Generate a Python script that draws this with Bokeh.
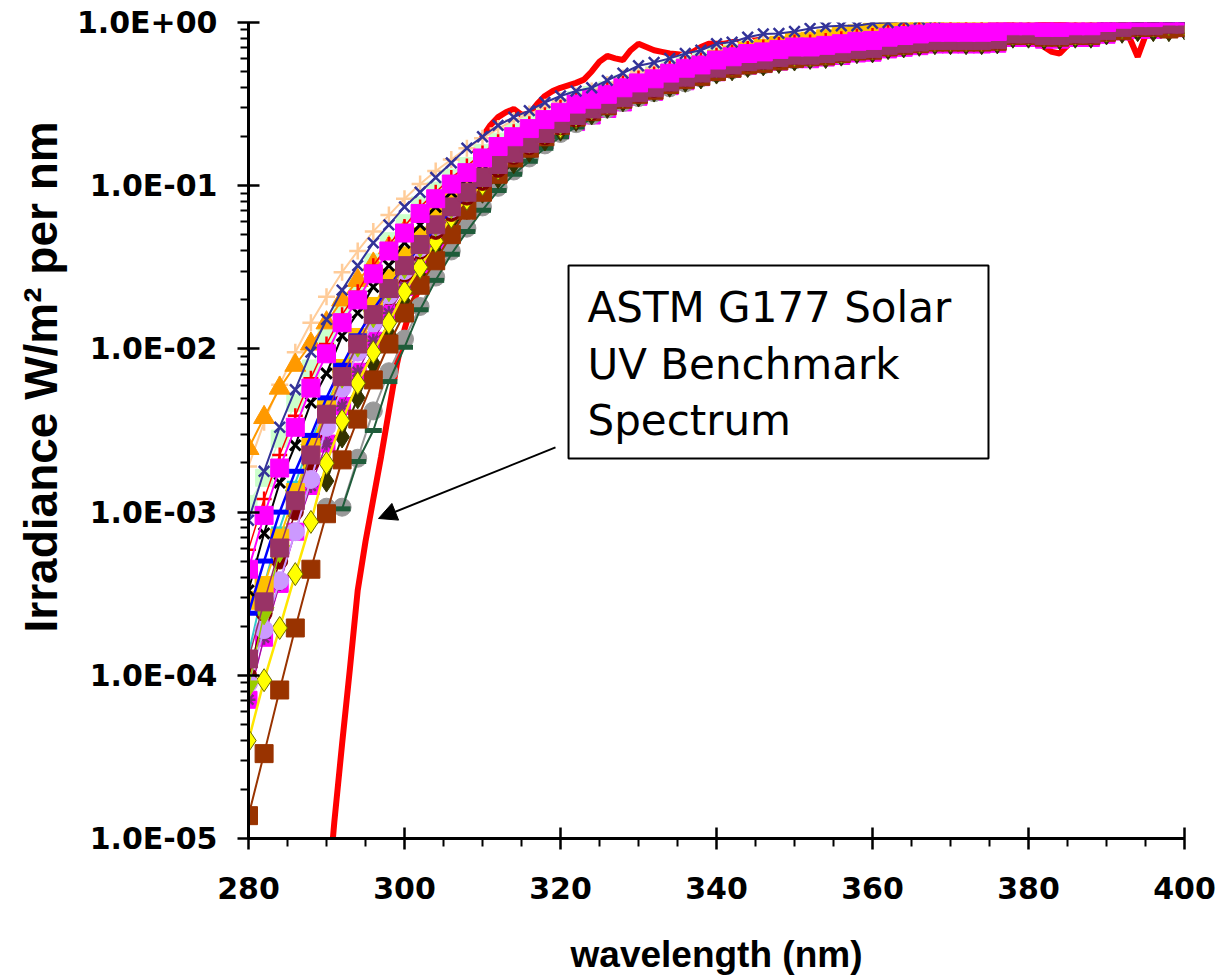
from bokeh.plotting import figure
from bokeh.models import (Range1d, FixedTicker, CustomJSTickFormatter, BoxAnnotation,
                          Label, Arrow, NormalHead, Title)
from bokeh.embed import file_html
from bokeh.resources import INLINE

# ---------------- data (log10 of irradiance, W/m2 per nm) -------------
wavelength = list(range(280, 401, 2))          # 2-nm grid used by the measured spectra
wl_from_290 = list(range(290, 401, 2))
wl_from_292 = list(range(292, 401, 2))
astm_wavelength = list(range(290, 401))        # 1-nm grid of the ASTM G177 spectrum

astm_g177_log10 = [
    -5.45, -4.90, -4.42, -3.96, -3.48, -3.18, -2.92, -2.66, -2.38, -2.10,
    -1.88, -1.72, -1.62, -1.52, -1.40, -1.25, -1.12, -1.00, -0.90, -0.80,
    -0.70, -0.63, -0.58, -0.55, -0.53, -0.565, -0.56, -0.50, -0.45, -0.42,
    -0.40, -0.385, -0.37, -0.35, -0.30, -0.24, -0.205, -0.22, -0.23, -0.17,
    -0.13, -0.15, -0.17, -0.18, -0.19, -0.195, -0.20, -0.18, -0.15, -0.13,
    -0.13, -0.13, -0.12, -0.12, -0.11, -0.11, -0.10, -0.11, -0.11, -0.10,
    -0.09, -0.10, -0.10, -0.10, -0.10, -0.12, -0.16, -0.20, -0.22, -0.17,
    -0.12, -0.09, -0.08, -0.08, -0.07, -0.07, -0.06, -0.06, -0.05, -0.05,
    -0.05, -0.05, -0.05, -0.06, -0.06, -0.05, -0.05, -0.04, -0.04, -0.05,
    -0.06, -0.12, -0.15, -0.18, -0.19, -0.14, -0.10, -0.07, -0.06, -0.05,
    -0.05, -0.05, -0.06, -0.10, -0.21, -0.08, -0.03, 0.00, 0.03, 0.04,
    0.04,
]

white_circle_log10 = [
    -3.00, -2.72, -2.47, -2.24, -2.02, -1.83, -1.66, -1.53, -1.39, -1.27,
    -1.17, -1.06, -0.98, -0.90, -0.84, -0.76, -0.70, -0.64, -0.60, -0.545,
    -0.50, -0.455, -0.425, -0.395, -0.355, -0.325, -0.30, -0.265, -0.235, -0.215,
    -0.185, -0.165, -0.145, -0.135, -0.12, -0.105, -0.105, -0.095, -0.085, -0.07,
    -0.065, -0.045, -0.035, -0.025, -0.015, -0.015, -0.015, -0.015, -0.01, 0.025,
    0.025, 0.015, 0.015, 0.025, 0.025, 0.045, 0.065, 0.075, 0.075, 0.085,
    0.085,
]
light_green_sq_log10 = [
    -2.95, -2.79, -2.55, -2.33, -2.12, -1.93, -1.76, -1.62, -1.47, -1.34,
    -1.23, -1.12, -1.03, -0.95, -0.88, -0.80, -0.73, -0.67, -0.62, -0.57,
    -0.52, -0.475, -0.445, -0.415, -0.375, -0.345, -0.32, -0.285, -0.255, -0.235,
    -0.205, -0.185, -0.165, -0.155, -0.14, -0.125, -0.125, -0.115, -0.105, -0.09,
    -0.085, -0.065, -0.055, -0.045, -0.035, -0.035, -0.035, -0.035, -0.03, 0.005,
    0.005, -0.005, -0.005, 0.005, 0.005, 0.025, 0.045, 0.055, 0.055, 0.065,
    0.065,
]
peach_plus_log10 = [
    -2.72, -2.45, -2.22, -2.02, -1.84, -1.68, -1.53, -1.40, -1.28, -1.18,
    -1.08, -0.99, -0.91, -0.84, -0.77, -0.71, -0.65, -0.60, -0.56, -0.52,
    -0.48, -0.45, -0.42, -0.38, -0.34, -0.30, -0.28, -0.26, -0.23, -0.21,
    -0.18, -0.16, -0.14, -0.13, -0.12, -0.10, -0.09, -0.08, -0.07, -0.06,
    -0.05, -0.04, -0.03, -0.03, -0.02, -0.02, -0.01, -0.01, 0.00, 0.00,
    -0.01, -0.01, -0.01, 0.00, 0.00, 0.01, 0.01, 0.00, -0.01, -0.02,
    0.00,
]
orange_tri_log10 = [
    -2.61, -2.42, -2.24, -2.10, -1.97, -1.84, -1.70, -1.58, -1.48, -1.38,
    -1.28, -1.18, -1.09, -1.02, -0.95, -0.86, -0.79, -0.73, -0.68, -0.625,
    -0.58, -0.53, -0.50, -0.47, -0.43, -0.40, -0.375, -0.34, -0.31, -0.29,
    -0.26, -0.24, -0.22, -0.21, -0.195, -0.18, -0.18, -0.17, -0.16, -0.145,
    -0.14, -0.12, -0.11, -0.10, -0.09, -0.09, -0.09, -0.09, -0.085, -0.05,
    -0.05, -0.06, -0.06, -0.05, -0.05, -0.03, -0.01, 0.00, 0.00, 0.01,
    0.01,
]
cyan_dash_log10 = [
    -3.87, -3.45, -3.10, -2.82, -2.57, -2.34, -2.14, -1.96, -1.79, -1.64,
    -1.51, -1.38, -1.27, -1.16, -1.07, -0.98, -0.90, -0.83, -0.77, -0.71,
    -0.65, -0.60, -0.56, -0.52, -0.48, -0.44, -0.41, -0.38, -0.35, -0.32,
    -0.29, -0.27, -0.25, -0.24, -0.225, -0.21, -0.205, -0.195, -0.185, -0.17,
    -0.16, -0.14, -0.13, -0.12, -0.11, -0.11, -0.11, -0.11, -0.105, -0.07,
    -0.07, -0.08, -0.08, -0.07, -0.07, -0.05, -0.03, -0.02, -0.02, -0.01,
    -0.01,
]
magenta_low_sq_log10 = [
    -4.15, -3.77, -3.44, -3.12, -2.84, -2.58, -2.35, -2.14, -1.95, -1.78,
    -1.62, -1.48, -1.35, -1.23, -1.12, -1.02, -0.93, -0.85, -0.78, -0.72,
    -0.66, -0.61, -0.57, -0.53, -0.49, -0.455, -0.425, -0.39, -0.36, -0.335,
    -0.305, -0.285, -0.265, -0.255, -0.24, -0.225, -0.225, -0.215, -0.205, -0.19,
    -0.185, -0.165, -0.155, -0.145, -0.135, -0.135, -0.135, -0.135, -0.13, -0.095,
    -0.095, -0.105, -0.105, -0.095, -0.095, -0.075, -0.055, -0.045, -0.045, -0.035,
    -0.035,
]
gray_circle_log10 = [
    -2.97, -2.97, -2.67, -2.38, -2.14, -1.94, -1.74, -1.56, -1.40, -1.26,
    -1.13, -1.01, -0.91, -0.83, -0.75, -0.68, -0.62, -0.57, -0.53, -0.49,
    -0.46, -0.43, -0.40, -0.37, -0.34, -0.31, -0.29, -0.27, -0.26, -0.24,
    -0.23, -0.22, -0.21, -0.20, -0.18, -0.17, -0.15, -0.14, -0.13, -0.12,
    -0.12, -0.11, -0.11, -0.10, -0.07, -0.07, -0.08, -0.07, -0.06, -0.05,
    -0.04, -0.02, 0.00, -0.01, -0.02, -0.02,
]
dark_green_dash_log10 = [
    -2.98, -2.69, -2.50, -2.20, -1.99, -1.76, -1.58, -1.42, -1.28, -1.15,
    -1.03, -0.93, -0.85, -0.77, -0.70, -0.64, -0.59, -0.55, -0.51, -0.47,
    -0.44, -0.41, -0.38, -0.35, -0.32, -0.30, -0.28, -0.27, -0.25, -0.24,
    -0.23, -0.22, -0.21, -0.19, -0.18, -0.16, -0.15, -0.14, -0.13, -0.13,
    -0.12, -0.12, -0.11, -0.08, -0.08, -0.09, -0.08, -0.07, -0.06, -0.05,
    -0.03, -0.02, -0.02, -0.03, -0.03,
]
dark_olive_diamond_log10 = [
    -2.81, -2.54, -2.30, -2.09, -1.91, -1.72, -1.56, -1.41, -1.27, -1.14,
    -1.04, -0.95, -0.86, -0.79, -0.72, -0.66, -0.60, -0.56, -0.52, -0.48,
    -0.45, -0.42, -0.39, -0.36, -0.34, -0.31, -0.29, -0.27, -0.26, -0.245,
    -0.23, -0.22, -0.215, -0.20, -0.185, -0.18, -0.16, -0.15, -0.14, -0.13,
    -0.13, -0.13, -0.13, -0.125, -0.09, -0.09, -0.10, -0.10, -0.09, -0.09,
    -0.07, -0.06, -0.05, -0.05, -0.05, -0.04,
]
brown_sq_log10 = [
    -4.86, -4.48, -4.09, -3.71, -3.35, -3.01, -2.68, -2.43, -2.19, -1.97,
    -1.78, -1.61, -1.46, -1.30, -1.15, -1.04, -0.93, -0.83, -0.77, -0.70,
    -0.63, -0.58, -0.545, -0.51, -0.47, -0.44, -0.415, -0.38, -0.35, -0.33,
    -0.30, -0.28, -0.26, -0.25, -0.235, -0.22, -0.21, -0.205, -0.19, -0.175,
    -0.17, -0.15, -0.14, -0.13, -0.12, -0.12, -0.12, -0.12, -0.115, -0.08,
    -0.08, -0.09, -0.09, -0.08, -0.08, -0.06, -0.05, -0.03, -0.03, -0.04,
    -0.03,
]
yellow_diamond_log10 = [
    -4.40, -4.03, -3.71, -3.38, -3.06, -2.70, -2.44, -2.21, -2.02, -1.84,
    -1.65, -1.50, -1.34, -1.19, -1.08, -0.99, -0.895, -0.80, -0.735, -0.68,
    -0.64, -0.58, -0.52, -0.48, -0.435, -0.405, -0.375, -0.345, -0.315, -0.30,
    -0.275, -0.255, -0.235, -0.225, -0.21, -0.20, -0.20, -0.19, -0.18, -0.165,
    -0.16, -0.14, -0.13, -0.12, -0.11, -0.11, -0.11, -0.11, -0.105, -0.07,
    -0.07, -0.08, -0.08, -0.07, -0.07, -0.05, -0.03, -0.02, -0.02, -0.01,
    -0.01,
]
dark_red_circle_log10 = [
    -4.00, -3.62, -3.30, -3.00, -2.70, -2.45, -2.22, -2.02, -1.84, -1.68,
    -1.54, -1.40, -1.28, -1.17, -1.07, -0.98, -0.90, -0.82, -0.76, -0.70,
    -0.64, -0.59, -0.55, -0.51, -0.47, -0.44, -0.41, -0.375, -0.345, -0.32,
    -0.29, -0.27, -0.25, -0.24, -0.225, -0.21, -0.21, -0.20, -0.19, -0.175,
    -0.17, -0.15, -0.14, -0.13, -0.12, -0.12, -0.12, -0.12, -0.115, -0.08,
    -0.08, -0.09, -0.09, -0.08, -0.08, -0.06, -0.04, -0.03, -0.03, -0.02,
    -0.02,
]
lavender_circle_log10 = [
    -4.05, -3.72, -3.42, -3.12, -2.80, -2.48, -2.24, -2.02, -1.84, -1.67,
    -1.52, -1.38, -1.25, -1.14, -1.04, -0.95, -0.87, -0.80, -0.74, -0.68,
    -0.62, -0.57, -0.53, -0.49, -0.45, -0.42, -0.39, -0.355, -0.325, -0.30,
    -0.27, -0.25, -0.23, -0.22, -0.205, -0.19, -0.19, -0.18, -0.17, -0.155,
    -0.15, -0.13, -0.12, -0.11, -0.10, -0.10, -0.10, -0.10, -0.095, -0.06,
    -0.06, -0.07, -0.07, -0.06, -0.06, -0.04, -0.02, -0.01, -0.01, 0.00,
    0.00,
]
yellow_green_tri_log10 = [
    -4.07, -3.62, -3.24, -2.90, -2.62, -2.38, -2.17, -1.98, -1.80, -1.64,
    -1.50, -1.37, -1.24, -1.13, -1.03, -0.94, -0.86, -0.79, -0.73, -0.67,
    -0.615, -0.565, -0.525, -0.49, -0.45, -0.415, -0.385, -0.35, -0.32, -0.295,
    -0.265, -0.245, -0.225, -0.215, -0.20, -0.185, -0.185, -0.175, -0.165, -0.15,
    -0.145, -0.125, -0.115, -0.105, -0.095, -0.095, -0.095, -0.095, -0.09, -0.055,
    -0.055, -0.065, -0.065, -0.055, -0.055, -0.035, -0.015, -0.005, -0.005, 0.005,
    0.005,
]
gold_sq_log10 = [
    -3.54, -3.45, -3.16, -2.88, -2.60, -2.37, -2.12, -1.93, -1.74, -1.57,
    -1.43, -1.31, -1.17, -1.07, -0.98, -0.89, -0.81, -0.745, -0.69, -0.63,
    -0.58, -0.53, -0.495, -0.46, -0.42, -0.385, -0.355, -0.315, -0.285, -0.26,
    -0.225, -0.20, -0.175, -0.16, -0.14, -0.12, -0.115, -0.10, -0.085, -0.07,
    -0.06, -0.04, -0.03, -0.02, -0.01, -0.01, -0.01, -0.01, -0.005, 0.02,
    0.02, 0.01, 0.01, 0.02, 0.02, 0.04, 0.06, 0.07, 0.07, 0.08,
    0.08,
]
blue_dash_log10 = [
    -3.62, -3.30, -3.00, -2.75, -2.53, -2.30, -2.10, -1.92, -1.76, -1.62,
    -1.49, -1.37, -1.26, -1.15, -1.06, -0.97, -0.89, -0.82, -0.76, -0.70,
    -0.64, -0.59, -0.55, -0.51, -0.47, -0.43, -0.40, -0.37, -0.34, -0.31,
    -0.28, -0.26, -0.24, -0.23, -0.215, -0.20, -0.195, -0.185, -0.175, -0.16,
    -0.15, -0.13, -0.12, -0.11, -0.10, -0.10, -0.10, -0.10, -0.095, -0.06,
    -0.06, -0.07, -0.07, -0.06, -0.06, -0.04, -0.02, -0.01, -0.01, 0.00,
    0.00,
]
black_x_log10 = [
    -3.48, -3.13, -2.82, -2.59, -2.33, -2.15, -1.92, -1.78, -1.62, -1.49,
    -1.35, -1.24, -1.13, -1.04, -0.96, -0.87, -0.80, -0.74, -0.69, -0.63,
    -0.58, -0.53, -0.50, -0.47, -0.43, -0.40, -0.375, -0.34, -0.31, -0.29,
    -0.26, -0.24, -0.22, -0.21, -0.195, -0.18, -0.18, -0.17, -0.16, -0.145,
    -0.14, -0.12, -0.11, -0.10, -0.09, -0.09, -0.09, -0.09, -0.085, -0.05,
    -0.05, -0.06, -0.06, -0.05, -0.05, -0.03, -0.01, 0.00, 0.00, 0.01,
    0.01,
]
red_plus_log10 = [
    -3.23, -2.92, -2.65, -2.41, -2.18, -1.97, -1.79, -1.65, -1.49, -1.36,
    -1.25, -1.13, -1.04, -0.95, -0.88, -0.80, -0.73, -0.67, -0.62, -0.565,
    -0.52, -0.47, -0.44, -0.41, -0.37, -0.34, -0.315, -0.28, -0.25, -0.23,
    -0.20, -0.18, -0.16, -0.15, -0.135, -0.12, -0.12, -0.11, -0.10, -0.085,
    -0.08, -0.06, -0.05, -0.04, -0.03, -0.03, -0.03, -0.03, -0.025, 0.01,
    0.01, 0.00, 0.00, 0.01, 0.01, 0.03, 0.05, 0.06, 0.06, 0.07,
    0.07,
]
plum_sq_log10 = [
    -3.90, -3.55, -3.22, -2.93, -2.65, -2.40, -2.17, -1.97, -1.79, -1.63,
    -1.49, -1.36, -1.24, -1.13, -1.04, -0.95, -0.87, -0.80, -0.74, -0.68,
    -0.62, -0.57, -0.53, -0.50, -0.46, -0.43, -0.40, -0.365, -0.335, -0.31,
    -0.28, -0.26, -0.24, -0.23, -0.215, -0.20, -0.20, -0.19, -0.18, -0.165,
    -0.16, -0.14, -0.13, -0.12, -0.11, -0.11, -0.11, -0.11, -0.105, -0.07,
    -0.07, -0.08, -0.08, -0.07, -0.07, -0.05, -0.03, -0.02, -0.02, -0.01,
    -0.01,
]
magenta_sq_log10 = [
    -3.35, -3.02, -2.73, -2.48, -2.24, -2.03, -1.84, -1.70, -1.54, -1.40,
    -1.29, -1.17, -1.08, -0.99, -0.92, -0.83, -0.76, -0.70, -0.65, -0.595,
    -0.55, -0.50, -0.47, -0.44, -0.40, -0.37, -0.345, -0.31, -0.28, -0.26,
    -0.23, -0.21, -0.19, -0.18, -0.165, -0.15, -0.15, -0.14, -0.13, -0.115,
    -0.11, -0.09, -0.08, -0.07, -0.06, -0.06, -0.06, -0.06, -0.055, -0.02,
    -0.02, -0.03, -0.03, -0.02, -0.02, 0.00, 0.02, 0.03, 0.03, 0.04,
    0.04,
]
navy_x_log10 = [
    -3.05, -2.75, -2.48, -2.25, -2.02, -1.82, -1.64, -1.49, -1.35, -1.24,
    -1.13, -1.04, -0.95, -0.86, -0.77, -0.70, -0.63, -0.58, -0.54, -0.49,
    -0.45, -0.42, -0.40, -0.355, -0.31, -0.265, -0.245, -0.22, -0.19, -0.17,
    -0.13, -0.12, -0.09, -0.07, -0.067, -0.055, -0.037, -0.025, -0.02, -0.02,
    -0.005, 0.00, 0.01, 0.02, 0.03, 0.04, 0.04, 0.05, 0.05, 0.06,
    0.06, 0.06, 0.06, 0.07, 0.07, 0.07, 0.08, 0.08, 0.08, 0.09,
    0.09,
]

y_tick_values = [1e-5, 1e-4, 1e-3, 1e-2, 1e-1, 1.0]
x_tick_values = [280, 300, 320, 340, 360, 380, 400]
annotation_lines = ["ASTM G177 Solar", "UV Benchmark", "Spectrum"]
y_title = "Irradiance W/m\u00b2 per nm"
x_title = "wavelength (nm)"


def irr(logs):
    return [10 ** v for v in logs]


# ---------------- figure -------------
p = figure(frame_width=936, frame_height=816, width=1216, height=979,
           y_axis_type="log", output_backend="svg", toolbar_location=None,
           x_range=Range1d(280, 400), y_range=Range1d(1e-5, 1.0),
           min_border_left=248, min_border_right=32, min_border_top=22,
           min_border_bottom=141)
p.outline_line_color = None
p.grid.visible = False
p.background_fill_color = "white"
p.border_fill_color = "white"

# ASTM G177 reference spectrum (thick red, underneath)
p.line(astm_wavelength, irr(astm_g177_log10), line_color="#FF0000", line_width=6)

# (x, values, marker, colour, size, marker line width, line colour, line width, outline)
series = [
    (wavelength, white_circle_log10, "circle", "#FFFFFF", 17, 1, "#FFFFFF", 1.0, None),
    (wavelength, light_green_sq_log10, "square", "#CCFFCC", 17, 1, "#CCFFCC", 1.5, None),
    (wavelength, peach_plus_log10, "cross", "#FFCC99", 17, 2.5, "#FFCC99", 2.0, None),
    (wavelength, orange_tri_log10, "triangle", "#FF9900", 21, 1, "#FF9900", 2.0, None),
    (wavelength, cyan_dash_log10, "dash", "#33CCCC", 17, 4, "#33CCCC", 2.0, None),
    (wavelength, magenta_low_sq_log10, "square", "#FF00FF", 17, 1, "#FF00FF", 1.5, None),
    (wavelength, magenta_low_sq_log10, "asterisk", "#7F2A7F", 14, 2.5, "#7F2A7F", 1.0, None),
    (wl_from_290, gray_circle_log10, "circle", "#999999", 18, 1, "#999999", 2.0, None),
    (wl_from_292, dark_green_dash_log10, "dash", "#1F5C3A", 17, 5, "#1F5C3A", 2.0, None),
    (wl_from_290, dark_olive_diamond_log10, "diamond", "#333300", 22, 1, "#333300", 2.0, None),
    (wavelength, brown_sq_log10, "square", "#993300", 18, 1, "#993300", 2.0, None),
    (wavelength, yellow_diamond_log10, "diamond", "#FFFF00", 23, 1, "#FFE600", 2.5, "#6B6B00"),
    (wavelength, dark_red_circle_log10, "circle", "#800000", 16, 1, "#800000", 1.5, None),
    (wavelength, lavender_circle_log10, "circle", "#CC99FF", 18, 1, "#CC99FF", 2.0, None),
    (wavelength, yellow_green_tri_log10, "inverted_triangle", "#99CC00", 20, 1, "#99CC00", 1.5, None),
    (wavelength, gold_sq_log10, "square", "#FFC000", 18, 1, "#FFC000", 2.0, None),
    (wavelength, blue_dash_log10, "dash", "#0000FF", 18, 5, "#0000FF", 2.5, None),
    (wavelength, black_x_log10, "x", "#000000", 15, 3, "#000000", 2.0, None),
    (wavelength, red_plus_log10, "cross", "#FF0000", 15, 2.5, "#FF0000", 1.5, None),
    (wavelength, plum_sq_log10, "square", "#993366", 18, 1, "#993366", 1.5, None),
    (wavelength, magenta_sq_log10, "square", "#FF00FF", 18, 1, "#FF00FF", 2.0, None),
    (wavelength, navy_x_log10, "x", "#333399", 15, 2.5, "#333399", 2.0, None),
]

for xs, logs, marker, color, size, mlw, lcolor, lw, outline in series:
    ys = irr(logs)
    p.line(xs, ys, line_color=lcolor, line_width=lw)
    if marker in ("cross", "x", "asterisk", "dash"):
        p.scatter(xs, ys, marker=marker, size=size, line_color=color, line_width=mlw)
    else:
        p.scatter(xs, ys, marker=marker, size=size, fill_color=color,
                  line_color=outline if outline else color, line_width=mlw)

# ---------------- axes -------------
p.xaxis.ticker = FixedTicker(ticks=x_tick_values,
                             minor_ticks=[v for v in range(285, 400, 5) if v % 20])
minor_y = [m * 10.0 ** e for e in range(-5, 0) for m in range(2, 10)]
p.yaxis.ticker = FixedTicker(ticks=y_tick_values, minor_ticks=minor_y)
p.yaxis.formatter = CustomJSTickFormatter(code="""
const e = Math.round(Math.log10(tick));
const a = Math.abs(e);
return "1.0E" + (e < 0 ? "-" : "+") + (a < 10 ? "0" : "") + a;
""")

for ax in (p.xaxis, p.yaxis):
    ax.axis_line_width = 3
    ax.axis_line_color = "black"
    ax.major_tick_line_width = 2.5
    ax.minor_tick_line_width = 2
    ax.major_tick_in = 11
    ax.major_tick_out = 11
    ax.minor_tick_in = 0
    ax.minor_tick_out = 8
    ax.major_label_text_font = "DejaVu Sans"
    ax.major_label_text_font_style = "bold"
    ax.major_label_text_font_size = "30px"
    ax.major_label_text_color = "black"

p.xaxis.major_label_standoff = 27
p.yaxis.major_label_standoff = 20
p.xaxis.axis_label = x_title
p.xaxis.axis_label_text_font = "Liberation Sans"
p.xaxis.axis_label_text_font_style = "bold"
p.xaxis.axis_label_text_color = "black"
p.xaxis.axis_label_text_font_size = "37px"
p.xaxis.axis_label_standoff = 32

# y title as a side title (it sits above the frame's centre in the reference)
p.add_layout(Title(text=y_title, align="left", offset=206, standoff=14,
                   text_font="Liberation Sans", text_font_style="bold",
                   text_font_size="46px", text_color="black"), "left")

# ---------------- annotation box, text, arrow -------------
box = BoxAnnotation(left=321.03, right=374.87, top=0.0324, bottom=0.00213,
                    fill_color="white", fill_alpha=1.0, line_color="black",
                    line_alpha=1.0, line_width=2, level="annotation")
p.add_layout(box)
for txt, ypos in zip(annotation_lines, [0.01793, 0.00802, 0.003641]):
    p.add_layout(Label(x=323.46, y=ypos, text=txt, text_font="DejaVu Sans",
                       text_font_size="42px", text_color="black",
                       text_baseline="alphabetic", text_align="left"))

p.add_layout(Arrow(end=NormalHead(size=18, fill_color="black", line_color="black"),
                   x_start=319.36, y_start=0.00249, x_end=296.67, y_end=0.000914,
                   line_color="black", line_width=2))

open("out.html", "w").write(file_html(p, INLINE))
